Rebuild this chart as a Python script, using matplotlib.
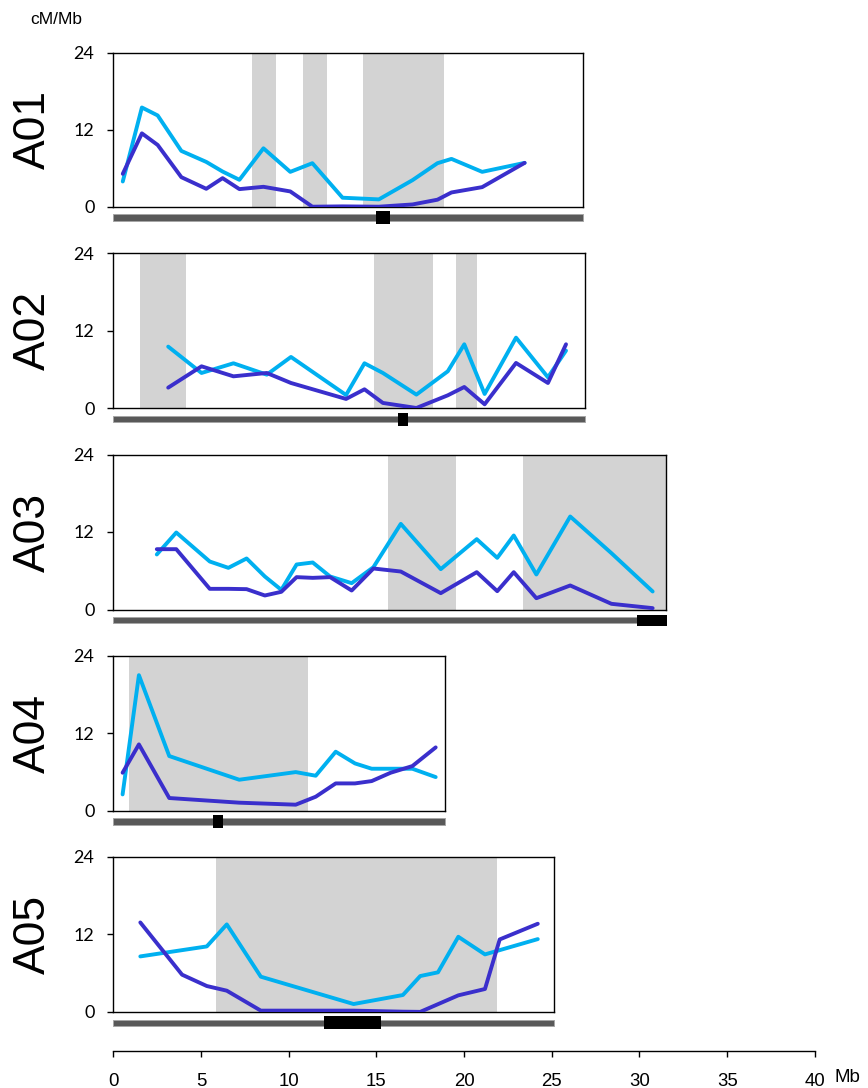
import matplotlib
matplotlib.use("Agg")
import matplotlib.pyplot as plt
from matplotlib.patches import Rectangle

# ---------------- data ----------------
chrom_names = ["A01", "A02", "A03", "A04", "A05"]
chrom_lengths = [26.76, 26.9, 31.5, 18.91, 25.15]          # Mb
centromeres = [(15.0, 15.8), (16.25, 16.8), (29.87, 31.55), (5.7, 6.28), (12.0, 15.25)]
shaded = [
    [(7.89, 9.28), (10.79, 12.18), (14.25, 18.85)],
    [(1.55, 4.16), (14.87, 18.22), (19.51, 20.73)],
    [(15.65, 19.56), (23.35, 31.5)],
    [(0.91, 11.09)],
    [(5.84, 21.88)],
]

a01_light_x = [0.54, 1.63, 2.53, 3.88, 5.30, 6.23, 7.19, 8.56, 10.09, 11.35, 13.07, 15.14, 17.06, 18.48, 19.28, 21.03, 23.45]
a01_light_y = [3.93, 15.46, 14.22, 8.69, 6.98, 5.48, 4.19, 9.10, 5.43, 6.78, 1.40, 1.14, 4.14, 6.78, 7.45, 5.43, 6.83]
a01_dark_x = [0.54, 1.63, 2.53, 3.88, 5.30, 6.23, 7.19, 8.56, 10.09, 11.35, 13.07, 15.14, 17.06, 18.48, 19.28, 21.03, 23.45]
a01_dark_y = [5.12, 11.43, 9.62, 4.60, 2.79, 4.45, 2.74, 3.10, 2.38, 0.0, 0.05, 0.0, 0.35, 1.09, 2.22, 3.05, 6.83]

a02_light_x = [3.13, 5.03, 6.85, 8.75, 10.13, 13.27, 14.32, 15.37, 17.28, 19.07, 20.01, 21.17, 22.96, 24.78, 25.81]
a02_light_y = [9.55, 5.47, 6.97, 5.21, 7.95, 2.06, 6.97, 5.47, 2.12, 5.73, 9.91, 2.22, 10.94, 4.80, 8.93]
a02_dark_x = [3.13, 5.03, 6.85, 8.75, 10.13, 13.27, 14.32, 15.37, 17.28, 19.07, 20.01, 21.17, 22.96, 24.78, 25.81]
a02_dark_y = [3.20, 6.50, 4.95, 5.47, 3.92, 1.45, 2.94, 0.83, 0.05, 2.01, 3.30, 0.62, 7.02, 3.92, 9.91]

a03_light_x = [2.48, 3.59, 5.50, 6.56, 7.60, 8.64, 9.58, 10.45, 11.37, 12.36, 13.59, 14.83, 16.39, 18.67, 20.72, 21.89, 22.83, 24.12, 26.05, 28.40, 30.75]
a03_light_y = [8.52, 11.92, 7.43, 6.45, 7.90, 5.11, 3.04, 6.97, 7.28, 5.11, 4.08, 6.55, 13.26, 6.25, 10.89, 8.00, 11.46, 5.42, 14.40, 8.72, 2.79]
a03_dark_x = [2.48, 3.59, 5.50, 6.56, 7.60, 8.64, 9.58, 10.45, 11.37, 12.36, 13.59, 14.83, 16.39, 18.67, 20.72, 21.89, 22.83, 24.12, 26.05, 28.40, 30.75]
a03_dark_y = [9.34, 9.34, 3.20, 3.20, 3.15, 2.17, 2.74, 5.01, 4.90, 5.01, 2.94, 6.35, 5.88, 2.53, 5.78, 2.84, 5.78, 1.75, 3.72, 0.88, 0.21]

a04_light_x = [0.53, 1.46, 3.19, 7.18, 10.40, 11.54, 12.68, 13.78, 14.73, 15.81, 17.05, 18.38]
a04_light_y = [2.52, 20.96, 8.45, 4.79, 5.97, 5.41, 9.12, 7.31, 6.49, 6.49, 6.49, 5.20]
a04_dark_x = [0.53, 1.46, 3.19, 7.18, 10.40, 11.54, 12.68, 13.78, 14.73, 15.81, 17.05, 18.38]
a04_dark_y = [5.87, 10.25, 1.96, 1.24, 0.93, 2.16, 4.22, 4.22, 4.58, 5.87, 6.90, 9.79]

a05_light_x = [1.54, 5.33, 6.47, 8.41, 13.70, 16.51, 17.50, 18.51, 19.67, 21.19, 24.20]
a05_light_y = [8.58, 10.12, 13.52, 5.45, 1.23, 2.62, 5.55, 6.12, 11.61, 8.89, 11.25]
a05_dark_x = [1.54, 3.92, 5.33, 6.47, 8.41, 13.70, 16.51, 17.50, 19.67, 21.19, 22.03, 24.20]
a05_dark_y = [13.82, 5.76, 4.01, 3.29, 0.21, 0.21, 0.05, 0.02, 2.57, 3.55, 11.20, 13.62]

light_series = [(a01_light_x, a01_light_y), (a02_light_x, a02_light_y), (a03_light_x, a03_light_y),
                (a04_light_x, a04_light_y), (a05_light_x, a05_light_y)]
dark_series = [(a01_dark_x, a01_dark_y), (a02_dark_x, a02_dark_y), (a03_dark_x, a03_dark_y),
               (a04_dark_x, a04_dark_y), (a05_dark_x, a05_dark_y)]

y_ticks = [0, 12, 24]
x_ticks = [0, 5, 10, 15, 20, 25, 30, 35, 40]

# ---------------- layout (pixels) ----------------
W, H = 868, 1088
X0 = 113.3
PX_PER_MB = 17.54
panel_top = [52.7, 253.3, 454.5, 655.5, 856.5]
panel_bot = [206.7, 408.3, 609.5, 810.7, 1012.0]

LIGHT = "#00b0f0"
DARK = "#3a2fcc"
SHADE = "#d3d3d3"

fig = plt.figure(figsize=(W / 100, H / 100), dpi=100)


def px_axes(x_left, y_top, width, height):
    return fig.add_axes([x_left / W, 1 - (y_top + height) / H, width / W, height / H])


for i, name in enumerate(chrom_names):
    L = chrom_lengths[i]
    wpx = L * PX_PER_MB
    ax = px_axes(X0, panel_top[i], wpx, panel_bot[i] - panel_top[i])
    ax.set_xlim(0, L)
    ax.set_ylim(0, 24)
    for (s, e) in shaded[i]:
        ax.axvspan(s, e, color=SHADE, lw=0, zorder=0)
    lx, ly = light_series[i]
    dx, dy = dark_series[i]
    ax.plot(lx, ly, color=LIGHT, lw=2.8, solid_capstyle="round", solid_joinstyle="round", zorder=2)
    ax.plot(dx, dy, color=DARK, lw=2.8, solid_capstyle="round", solid_joinstyle="round", zorder=3)
    ax.set_xticks([])
    ax.set_yticks(y_ticks)
    ax.set_yticklabels([str(t) for t in y_ticks], family=["Lato", "DejaVu Sans"], fontsize=13)
    ax.tick_params(axis="y", direction="out", length=4.6, width=1.0, pad=9, colors="black")
    for sp in ax.spines.values():
        sp.set_linewidth(1.0)
        sp.set_color("black")
    # panel label
    yc = (panel_top[i] + panel_bot[i]) / 2
    fig.text(33 / W, 1 - yc / H, name, rotation=90, ha="center", va="center",
             fontsize=32, family=["Liberation Sans", "DejaVu Sans"])

    # chromosome bar
    bar_c = panel_bot[i] + 10.8
    bax = px_axes(X0, bar_c - 8, wpx + 1, 16)
    bax.set_xlim(0, L + 1 / PX_PER_MB)
    bax.set_ylim(-8, 8)
    bax.axis("off")
    bax.add_patch(Rectangle((0, -3.2), L, 6.4, facecolor="#595959", edgecolor="#a6a6a6", lw=0.7))
    cs, ce = centromeres[i]
    ch = 11.0 if name == "A03" else 13.0
    bax.add_patch(Rectangle((cs, -ch / 2), ce - cs, ch, facecolor="black", edgecolor="none", zorder=3))

# y unit label
fig.text(30 / W, 1 - 19 / H, "cM/Mb", ha="left", va="center", fontsize=12.5,
         family=["Liberation Sans", "DejaVu Sans"])

# bottom scale axis
sax = px_axes(X0, 1030, 40 * PX_PER_MB, 20.7)
sax.set_xlim(0, 40)
sax.set_ylim(0, 1)
for k in ["top", "left", "right"]:
    sax.spines[k].set_visible(False)
sax.spines["bottom"].set_linewidth(1.0)
sax.set_yticks([])
sax.set_xticks(x_ticks)
sax.set_xticklabels([str(t) for t in x_ticks], family=["Liberation Sans Narrow", "Liberation Sans", "DejaVu Sans"],
                    fontsize=13.4)
sax.tick_params(axis="x", direction="out", length=4.6, width=1.0, pad=11.5)
sax.patch.set_alpha(0)
fig.text(835 / W, 1 - 1077 / H, "Mb", ha="left", va="center", fontsize=13.4,
         family=["Liberation Sans", "DejaVu Sans"])

fig.savefig("out.png", dpi=100)
